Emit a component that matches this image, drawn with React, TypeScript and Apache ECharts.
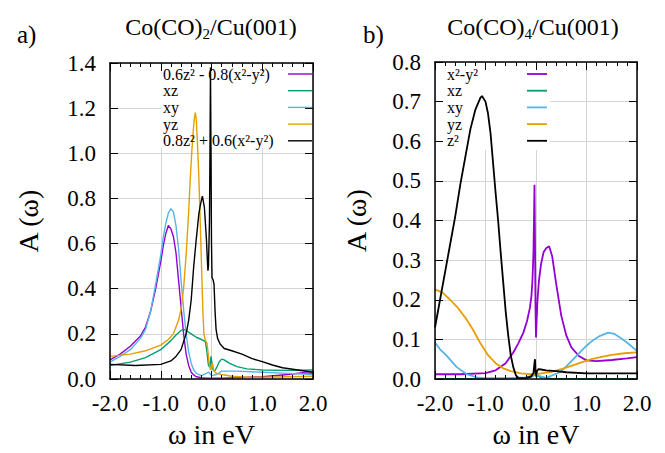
import { useEffect, useRef } from 'react';
import * as echarts from 'echarts';

const FONT = 'Liberation Serif';
const C_PURPLE = '#9400d3';
const C_GREEN = '#009e73';
const C_BLUE = '#56b4e9';
const C_ORANGE = '#e69f00';
const C_BLACK = '#000000';

// ---------- Panel a: Co(CO)2/Cu(001) ----------
const aPurpleX = [-2, -1.8, -1.6, -1.4, -1.3, -1.2, -1.1, -1.0, -0.95, -0.9, -0.85, -0.8, -0.75, -0.7, -0.65, -0.6, -0.55, -0.5, -0.45, -0.4, -0.35, -0.3, -0.2, -0.1, 0, 0.2, 0.5, 1.0, 1.5, 1.8, 2.0];
const aPurpleY = [0.085, 0.11, 0.145, 0.19, 0.23, 0.3, 0.4, 0.52, 0.59, 0.645, 0.68, 0.665, 0.63, 0.56, 0.44, 0.32, 0.2, 0.11, 0.06, 0.03, 0.018, 0.01, 0.006, 0.004, 0.004, 0.004, 0.006, 0.01, 0.02, 0.028, 0.025];

const aGreenX = [-2, -1.6, -1.3, -1.0, -0.8, -0.7, -0.6, -0.55, -0.5, -0.4, -0.3, -0.2, -0.15, -0.12, -0.09, -0.06, -0.03, -0.01, 0.01, 0.03, 0.06, 0.1, 0.15, 0.2, 0.25, 0.35, 0.5, 0.7, 1.0, 1.5, 2.0];
const aGreenY = [0.06, 0.075, 0.095, 0.13, 0.17, 0.195, 0.215, 0.22, 0.215, 0.2, 0.185, 0.175, 0.17, 0.165, 0.12, 0.06, 0.05, 0.1, 0.07, 0.04, 0.035, 0.05, 0.075, 0.088, 0.085, 0.07, 0.055, 0.045, 0.04, 0.038, 0.04];

const aBlueX = [-2, -1.8, -1.6, -1.4, -1.3, -1.2, -1.1, -1.0, -0.95, -0.9, -0.85, -0.8, -0.75, -0.7, -0.65, -0.6, -0.55, -0.5, -0.45, -0.4, -0.35, -0.3, -0.2, -0.1, -0.05, 0, 0.1, 0.2, 0.5, 1.0, 1.5, 2.0];
const aBlueY = [0.075, 0.1, 0.13, 0.18, 0.22, 0.3, 0.42, 0.55, 0.63, 0.69, 0.735, 0.755, 0.74, 0.68, 0.58, 0.44, 0.31, 0.2, 0.12, 0.07, 0.04, 0.025, 0.015, 0.025, 0.03, 0.015, 0.02, 0.035, 0.035, 0.03, 0.025, 0.02];

const aOrangeX = [-2, -1.6, -1.3, -1.0, -0.85, -0.75, -0.65, -0.6, -0.55, -0.5, -0.45, -0.42, -0.39, -0.36, -0.34, -0.32, -0.3, -0.28, -0.25, -0.22, -0.19, -0.17, -0.15, -0.12, -0.09, -0.06, -0.04, -0.02, 0, 0.02, 0.04, 0.07, 0.1, 0.2, 0.4, 0.7, 1.0, 1.5, 2.0];
const aOrangeY = [0.1, 0.11, 0.125, 0.15, 0.175, 0.2, 0.26, 0.31, 0.4, 0.55, 0.74, 0.88, 1.0, 1.1, 1.15, 1.18, 1.15, 1.06, 0.9, 0.68, 0.45, 0.3, 0.2, 0.17, 0.16, 0.1, 0.06, 0.04, 0.05, 0.07, 0.04, 0.03, 0.025, 0.02, 0.012, 0.008, 0.008, 0.01, 0.012];

const aBlackX = [-2, -1.5, -1.0, -0.8, -0.7, -0.6, -0.5, -0.45, -0.4, -0.35, -0.3, -0.25, -0.22, -0.18, -0.14, -0.1, -0.08, -0.07, -0.06, -0.04, -0.03, -0.02, -0.01, 0, 0.01, 0.03, 0.05, 0.07, 0.09, 0.12, 0.17, 0.25, 0.4, 0.6, 0.8, 1.0, 1.2, 1.4, 1.7, 2.0];
const aBlackY = [0.065, 0.06, 0.065, 0.08, 0.1, 0.13, 0.2, 0.26, 0.35, 0.5, 0.62, 0.73, 0.77, 0.81, 0.76, 0.62, 0.52, 0.48, 0.5, 0.7, 1.0, 1.38, 1.0, 0.6, 0.45, 0.44, 0.42, 0.3, 0.22, 0.18, 0.155, 0.135, 0.125, 0.11, 0.09, 0.077, 0.062, 0.05, 0.04, 0.03];

// ---------- Panel b: Co(CO)4/Cu(001) ----------
const bPurpleX = [-2, -1.5, -1.0, -0.8, -0.6, -0.45, -0.35, -0.25, -0.18, -0.12, -0.09, -0.07, -0.05, -0.04, -0.03, -0.02, -0.01, 0, 0.01, 0.03, 0.06, 0.1, 0.15, 0.2, 0.26, 0.32, 0.4, 0.5, 0.6, 0.7, 0.85, 1.0, 1.2, 1.5, 1.8, 2.0];
const bPurpleY = [0.012, 0.012, 0.015, 0.022, 0.04, 0.067, 0.09, 0.117, 0.145, 0.18, 0.21, 0.25, 0.32, 0.4, 0.49, 0.35, 0.18, 0.105, 0.14, 0.2, 0.25, 0.29, 0.32, 0.33, 0.335, 0.31, 0.24, 0.16, 0.11, 0.08, 0.058, 0.047, 0.045, 0.048, 0.052, 0.055];

const bGreenX = [-2, -1.0, -0.5, -0.2, -0.08, -0.04, -0.02, 0, 0.04, 0.1, 0.3, 1.0, 2.0];
const bGreenY = [0.0, 0.0, 0.001, 0.003, 0.006, 0.01, 0.016, 0.006, 0.008, 0.004, 0.001, 0.0, 0.0];

const bBlueX = [-2, -1.9, -1.77, -1.57, -1.37, -1.17, -1.0, -0.6, -0.2, -0.05, 0.0, 0.05, 0.2, 0.475, 0.6, 0.74, 0.87, 1.0, 1.13, 1.27, 1.43, 1.55, 1.66, 1.8, 2.0];
const bBlueY = [0.092, 0.075, 0.059, 0.03, 0.012, 0.004, 0.002, 0.002, 0.004, 0.01, 0.02, 0.008, 0.003, 0.017, 0.032, 0.05, 0.067, 0.084, 0.098, 0.109, 0.117, 0.114, 0.105, 0.092, 0.071];

const bOrangeX = [-2, -1.85, -1.7, -1.55, -1.4, -1.25, -1.1, -0.95, -0.8, -0.65, -0.5, -0.3, -0.1, 0.1, 0.3, 0.5, 0.7, 0.9, 1.1, 1.3, 1.5, 1.75, 2.0];
const bOrangeY = [0.226, 0.218, 0.2, 0.18, 0.155, 0.125, 0.09, 0.06, 0.04, 0.027, 0.02, 0.014, 0.012, 0.014, 0.018, 0.025, 0.033, 0.042, 0.05, 0.056, 0.061, 0.065, 0.067];

const bBlackX = [-2, -1.9, -1.8, -1.7, -1.6, -1.5, -1.4, -1.3, -1.2, -1.1, -1.07, -1.0, -0.95, -0.9, -0.85, -0.8, -0.75, -0.7, -0.65, -0.6, -0.55, -0.5, -0.45, -0.4, -0.35, -0.3, -0.2, -0.1, -0.05, -0.03, -0.02, -0.01, 0, 0.02, 0.05, 0.1, 0.2, 0.4, 0.6, 1.0, 1.5, 2.0];
const bBlackY = [0.13, 0.2, 0.27, 0.34, 0.41, 0.49, 0.56, 0.63, 0.68, 0.71, 0.714, 0.7, 0.67, 0.62, 0.545, 0.47, 0.4, 0.32, 0.245, 0.17, 0.11, 0.06, 0.03, 0.01, 0.003, 0.002, 0.003, 0.006, 0.015, 0.04, 0.05, 0.02, 0.01, 0.02, 0.025, 0.024, 0.022, 0.02, 0.017, 0.014, 0.014, 0.014];

const aLegendLabels = ['0.6z² - 0.8(x²-y²)', 'xz', 'xy', 'yz', '0.8z² + 0.6(x²-y²)'];
const bLegendLabels = ['x²-y²', 'xz', 'xy', 'yz', 'z²'];
const legendColors = [C_PURPLE, C_GREEN, C_BLUE, C_ORANGE, C_BLACK];

const panelTitles = ['{n|Co(CO)}{s|2}{n|/Cu(001)}', '{n|Co(CO)}{s|4}{n|/Cu(001)}'];
const panelTags = ['a)', 'b)'];
const yMaxes = [1.4, 0.8];
const yIntervals = [0.2, 0.1];

const zip = (xs: number[], ys: number[]) => xs.map((x, i) => [x, ys[i]]);

const panelSeries = [
  [
    { name: aLegendLabels[0], data: zip(aPurpleX, aPurpleY), color: C_PURPLE },
    { name: aLegendLabels[1], data: zip(aGreenX, aGreenY), color: C_GREEN },
    { name: aLegendLabels[2], data: zip(aBlueX, aBlueY), color: C_BLUE },
    { name: aLegendLabels[3], data: zip(aOrangeX, aOrangeY), color: C_ORANGE },
    { name: aLegendLabels[4], data: zip(aBlackX, aBlackY), color: C_BLACK },
  ],
  [
    { name: bLegendLabels[0], data: zip(bPurpleX, bPurpleY), color: C_PURPLE },
    { name: bLegendLabels[1], data: zip(bGreenX, bGreenY), color: C_GREEN },
    { name: bLegendLabels[2], data: zip(bBlueX, bBlueY), color: C_BLUE },
    { name: bLegendLabels[3], data: zip(bOrangeX, bOrangeY), color: C_ORANGE },
    { name: bLegendLabels[4], data: zip(bBlackX, bBlackY), color: C_BLACK },
  ],
];

const GRIDS = [
  { left: 110, top: 63, width: 203, height: 316 },
  { left: 435, top: 62, width: 202, height: 318 },
];

export default function App() {
  const ref = useRef<HTMLDivElement>(null);
  useEffect(() => {
    if (!ref.current) return;
    const chart = echarts.init(ref.current, null, { renderer: 'svg' });
    const fmt = (v: number) => v.toFixed(1);
    const lineBlack = { color: '#000', width: 1.5 };
    const xAxes: any[] = [];
    const yAxes: any[] = [];
    GRIDS.forEach((g, gi) => {
      const base = { type: 'value', gridIndex: gi, min: -2, max: 2, interval: 1 };
      xAxes.push({
        ...base, position: 'bottom', z: 3,
        axisLine: { show: true, onZero: false, lineStyle: lineBlack },
        axisTick: { show: true, inside: true, length: 8, lineStyle: { color: '#000', width: 1 } },
        minorTick: { show: true, splitNumber: 5, length: 4, lineStyle: { color: '#000', width: 1 } },
        axisLabel: { formatter: fmt, fontSize: 23, fontFamily: FONT, color: '#000', margin: 13 },
        splitLine: { show: false },
        name: 'ω in eV', nameLocation: 'middle', nameGap: 41,
        nameTextStyle: { fontSize: 28, fontFamily: FONT, color: '#000' },
      });
      xAxes.push({
        ...base, position: 'top', z: 3,
        axisLine: { show: true, onZero: false, lineStyle: lineBlack },
        axisTick: { show: true, inside: true, length: 8, lineStyle: { color: '#000', width: 1 } },
        minorTick: { show: true, splitNumber: 5, length: 4, lineStyle: { color: '#000', width: 1 } },
        axisLabel: { show: false },
        splitLine: { show: false },
      });
      xAxes.push({
        ...base, z: 0,
        axisLine: { show: false }, axisTick: { show: false }, axisLabel: { show: false },
        splitLine: { show: true, lineStyle: { color: '#d4d4d4', width: 1 } },
      });
      const ybase = { type: 'value', gridIndex: gi, min: 0, max: yMaxes[gi], interval: yIntervals[gi] };
      yAxes.push({
        ...ybase, position: 'left', z: 3,
        axisLine: { show: true, onZero: false, lineStyle: lineBlack },
        axisTick: { show: true, inside: true, length: 8, lineStyle: { color: '#000', width: 1 } },
        axisLabel: { formatter: fmt, fontSize: 23, fontFamily: FONT, color: '#000', margin: 14 },
        splitLine: { show: false },
        name: 'A (ω)', nameLocation: 'middle', nameGap: gi === 0 ? 68 : 65,
        nameTextStyle: { fontSize: 28, fontFamily: FONT, color: '#000' },
      });
      yAxes.push({
        ...ybase, position: 'right', z: 3,
        axisLine: { show: true, onZero: false, lineStyle: lineBlack },
        axisTick: { show: true, inside: true, length: 8, lineStyle: { color: '#000', width: 1 } },
        axisLabel: { show: false },
        splitLine: { show: false },
      });
      yAxes.push({
        ...ybase, z: 0,
        axisLine: { show: false }, axisTick: { show: false }, axisLabel: { show: false },
        splitLine: { show: true, lineStyle: { color: '#d4d4d4', width: 1 } },
      });
    });

    const series: any[] = [];
    panelSeries.forEach((list, gi) => {
      list.forEach((s) => {
        series.push({
          type: 'line', name: s.name, data: s.data,
          xAxisIndex: gi * 3, yAxisIndex: gi * 3,
          showSymbol: false, symbol: 'none', z: 2,
          lineStyle: { color: s.color, width: gi === 0 ? 1.4 : 1.8 },
          itemStyle: { color: s.color },
        });
      });
    });

    const legendRows = [74, 90.7, 107.4, 124.1, 140.8];
    const graphic: any[] = [];
    graphic.push({ type: 'rect', z: 1, shape: { x: 161, y: 64, width: 151, height: 84 }, style: { fill: '#fff' } });
    graphic.push({ type: 'rect', z: 1, shape: { x: 436, y: 63, width: 114, height: 87 }, style: { fill: '#fff' } });
    const legendCfg = [
      { labels: aLegendLabels, tx: 163, lx1: 288, lx2: 312 },
      { labels: bLegendLabels, tx: 447, lx1: 527, lx2: 547 },
    ];
    legendCfg.forEach((cfg, gi) => {
      cfg.labels.forEach((lab, i) => {
        graphic.push({
          type: 'text', z: 4, x: cfg.tx, y: legendRows[i],
          style: { text: lab, fontSize: 16, fontFamily: FONT, fill: '#000', align: 'left', verticalAlign: 'middle' },
        });
        graphic.push({
          type: 'line', z: 4,
          shape: { x1: cfg.lx1, y1: legendRows[i], x2: cfg.lx2, y2: legendRows[i] },
          style: { stroke: legendColors[i], lineWidth: gi === 0 ? 1.4 : 1.8 },
        });
      });
    });
    const titleX = [211, 533];
    const tagX = [17, 363];
    panelTitles.forEach((t, gi) => {
      graphic.push({
        type: 'text', z: 4, x: titleX[gi], y: 27,
        style: {
          text: t, align: 'center', verticalAlign: 'middle', fill: '#000',
          rich: {
            n: { fontSize: 24, fontFamily: FONT, lineHeight: 28, fill: '#000' },
            s: { fontSize: 15, fontFamily: FONT, lineHeight: 14, verticalAlign: 'bottom', fill: '#000' },
          },
        },
      });
      graphic.push({
        type: 'text', z: 4, x: tagX[gi], y: 34,
        style: { text: panelTags[gi], fontSize: 25, fontFamily: FONT, fill: '#000', align: 'left', verticalAlign: 'middle' },
      });
    });

    chart.setOption({
      animation: false,
      backgroundColor: '#fff',
      grid: GRIDS.map((g) => ({ ...g, containLabel: false })),
      xAxis: xAxes,
      yAxis: yAxes,
      series,
      graphic,
    });
    return () => chart.dispose();
  }, []);
  return <div ref={ref} style={{ position: 'fixed', left: 0, top: 0, width: 665, height: 453, background: '#fff' }} />;
}
